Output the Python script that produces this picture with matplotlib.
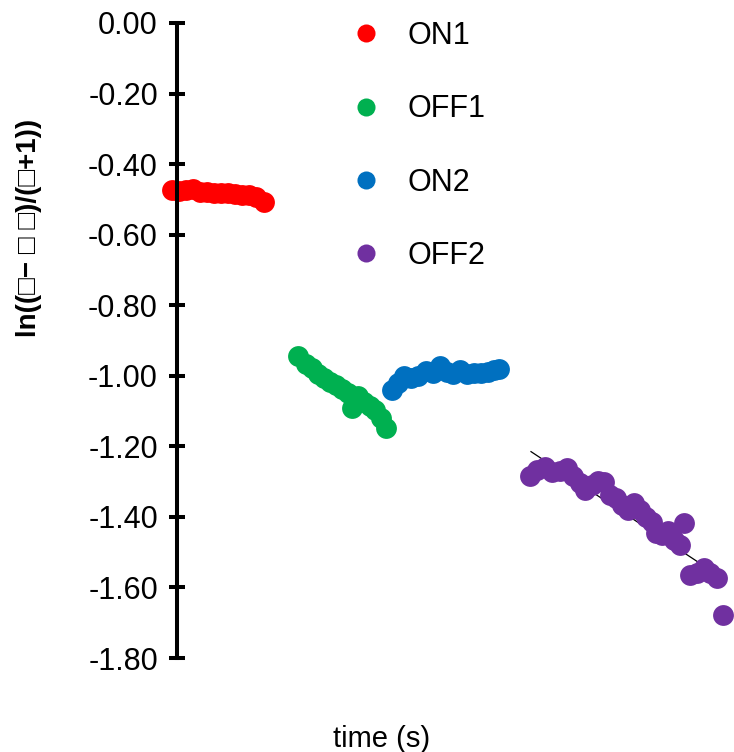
import matplotlib.pyplot as plt
from matplotlib.lines import Line2D

plt.rcParams['font.family'] = ['Liberation Sans', 'DejaVu Sans']

# 測定データ (時間 [s], ln値)
on1_t = [5, 12, 19, 26, 33, 40, 47, 54, 61, 68, 75, 82, 89, 97]
on1_v = [-0.473, -0.476, -0.473, -0.471, -0.479, -0.479, -0.482, -0.482,
         -0.482, -0.485, -0.488, -0.488, -0.493, -0.507]

off1_t = [131, 139, 145, 151, 157, 163, 169, 175, 181, 185, 191, 197, 203, 208, 214, 219]
off1_v = [-0.944, -0.967, -0.978, -0.995, -1.006, -1.018, -1.026, -1.037,
          -1.049, -1.091, -1.057, -1.074, -1.086, -1.097, -1.120, -1.148]

on2_t = [225, 231, 237, 244, 251, 259, 266, 273, 280, 286, 293, 300, 307, 314, 321, 327, 332]
on2_v = [-1.040, -1.020, -1.001, -1.006, -1.001, -0.986, -0.992, -0.972, -0.989,
         -0.995, -0.984, -0.995, -0.992, -0.992, -0.989, -0.984, -0.981]

off2_t = [363, 370, 378, 385, 393, 400, 406, 413, 418, 425, 431, 437, 443, 449, 455, 461,
          467, 473, 479, 485, 489, 495, 501, 507, 513, 517, 523, 530, 537, 543, 550, 556]
off2_v = [-1.284, -1.267, -1.259, -1.273, -1.270, -1.261, -1.284, -1.304, -1.324, -1.310,
          -1.298, -1.301, -1.338, -1.346, -1.366, -1.380, -1.361, -1.380, -1.400, -1.414,
          -1.446, -1.451, -1.440, -1.465, -1.480, -1.417, -1.565, -1.559, -1.545, -1.559,
          -1.573, -1.678]

# OFF2 の近似直線
trend_t = [364, 556]
trend_slope = -0.001874
trend_v0 = -1.215

series = [
    ('ON1', on1_t, on1_v, '#FF0000'),
    ('OFF1', off1_t, off1_v, '#00B050'),
    ('ON2', on2_t, on2_v, '#0070C0'),
    ('OFF2', off2_t, off2_v, '#7030A0'),
]

yticks = [0.0, -0.2, -0.4, -0.6, -0.8, -1.0, -1.2, -1.4, -1.6, -1.8]

fig = plt.figure(figsize=(7.34, 7.52), dpi=100)
ax = fig.add_axes([177 / 734, 1 - 658 / 752, 1 - 177 / 734, 635 / 752])

trend_v = [trend_v0 + trend_slope * (t - trend_t[0]) for t in trend_t]
ax.plot(trend_t, trend_v, color='black', linewidth=0.9, zorder=1)

handles = []
for name, t, v, c in series:
    ax.scatter(t, v, s=225, color=c, linewidths=0, zorder=2, clip_on=False)
    handles.append(Line2D([], [], linestyle='none', marker='o', markersize=13,
                          markerfacecolor=c, markeredgewidth=0, label=name))

ax.set_xlim(10, 567)
ax.set_ylim(-1.8, 0.0)
ax.set_yticks(yticks)
ax.set_yticklabels([f'{y:.2f}' for y in yticks])

for side in ['top', 'right', 'bottom']:
    ax.spines[side].set_visible(False)
ax.spines['left'].set_linewidth(2.9)
ax.tick_params(axis='y', direction='inout', length=11.5, width=2.9, pad=8, labelsize=22)
ax.tick_params(axis='x', bottom=False, labelbottom=False)

ax.set_xlabel('time (s)', fontsize=21)
ax.xaxis.set_label_coords((382 - 177) / 557, (658 - 725) / 635)
ax.set_ylabel('ln((□− □ □)/(□+1))', fontsize=20, fontweight='bold')
ax.yaxis.set_label_coords((42 - 177) / 557, (658 - 228) / 635)

ax.legend(handles=handles, loc='upper left', bbox_to_anchor=(351 / 734, 1 - 21 / 752),
          bbox_transform=fig.transFigure, frameon=False, fontsize=22,
          borderpad=0, borderaxespad=0, handlelength=1.0, handletextpad=0.85,
          labelspacing=1.42)

plt.savefig('out.png', dpi=100)
